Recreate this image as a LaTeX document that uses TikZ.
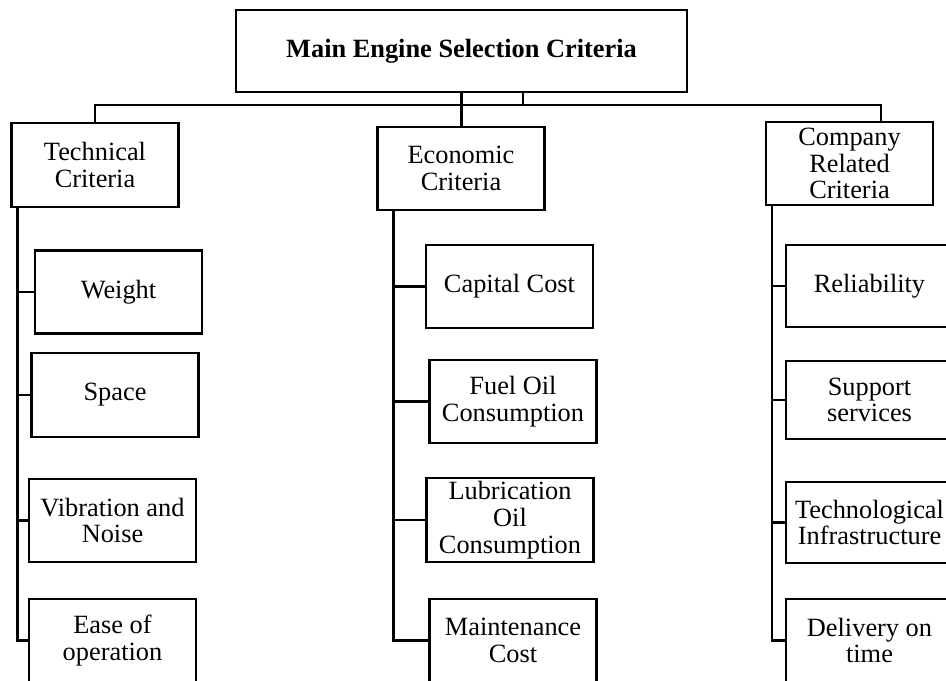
\documentclass[tikz,border=0pt]{standalone}
\usepackage{fontspec}
\setmainfont{Liberation Serif}
\usetikzlibrary{positioning}

\begin{document}
\begin{tikzpicture}[x=0.02cm,y=-0.02cm,line width=1.3pt,
  box/.style={draw,align=center,inner sep=1pt,
    font=\fontsize{15}{15.2}\selectfont,
    minimum width=3.34cm,minimum height=1.66cm},
  headbox/.style={box,font=\fontsize{15}{15.2}\selectfont\bfseries,
    minimum width=9.02cm,minimum height=1.64cm}]
  \useasboundingbox (0,0) rectangle (946,680);
  \clip (0,0) rectangle (946,680);
  % top level
  \node[headbox] (main) at (461.5,51) {Main Engine Selection Criteria};
  \node[box,minimum height=1.68cm] (tech) at (95,165) {Technical\\Criteria};
  \node[box] (econ) at (461,168.5) {Economic\\Criteria};
  \node[box] (comp) at (849.5,163.5) {Company\\Related\\Criteria};
  % technical
  \node[box] (weight) at (118.5,292) {Weight};
  \node[box,minimum height=1.68cm] (space) at (115,395) {Space};
  \node[box] (vib) at (112.5,520.5) {Vibration and\\Noise};
  \node[box] (ease) at (112.5,640.5) {Ease of\\operation};
  % economic
  \node[box] (capcost) at (509.5,286.5) {Capital Cost};
  \node[box] (fuel) at (513,401.5) {Fuel Oil\\Consumption};
  \node[box,minimum height=1.68cm] (lube) at (510,520) {Lubrication\\Oil\\Consumption};
  \node[box] (maint) at (513,640.5) {Maintenance\\Cost};
  % company
  \node[box,minimum height=1.64cm] (reli) at (869.5,286) {Reliability};
  \node[box,minimum height=1.56cm] (supp) at (869.5,400) {Support\\services};
  \node[box,minimum height=1.62cm] (infra) at (869.5,522.5) {Technological\\Infrastructure};
  \node[box] (deliv) at (869.5,640.5) {Delivery on\\time};

  % bus under the title
  \coordinate (jn) at (523,105);
  \draw (jn |- main.south) -- (jn);
  \draw (main.south) -- (main.south |- econ.north);
  \draw (tech.north) |- (jn) -| ([xshift=0.63cm]comp.north);

  % trunks
  \coordinate (ttrunk) at ([xshift=0.14cm]tech.south west);
  \coordinate (etrunk) at ([xshift=0.34cm]econ.south west);
  \coordinate (ctrunk) at ([xshift=0.14cm]comp.south west);
  \draw (ttrunk) |- (ease.west);
  \draw (etrunk) |- (maint.west);
  \draw (ctrunk) |- (deliv.west);
  \foreach \n in {weight,space,vib}
    \draw (\n.west) -- (\n.west -| ttrunk);
  \foreach \n in {capcost,fuel,lube}
    \draw (\n.west) -- (\n.west -| etrunk);
  \foreach \n in {reli,supp,infra}
    \draw (\n.west) -- (\n.west -| ctrunk);
\end{tikzpicture}
\end{document}
